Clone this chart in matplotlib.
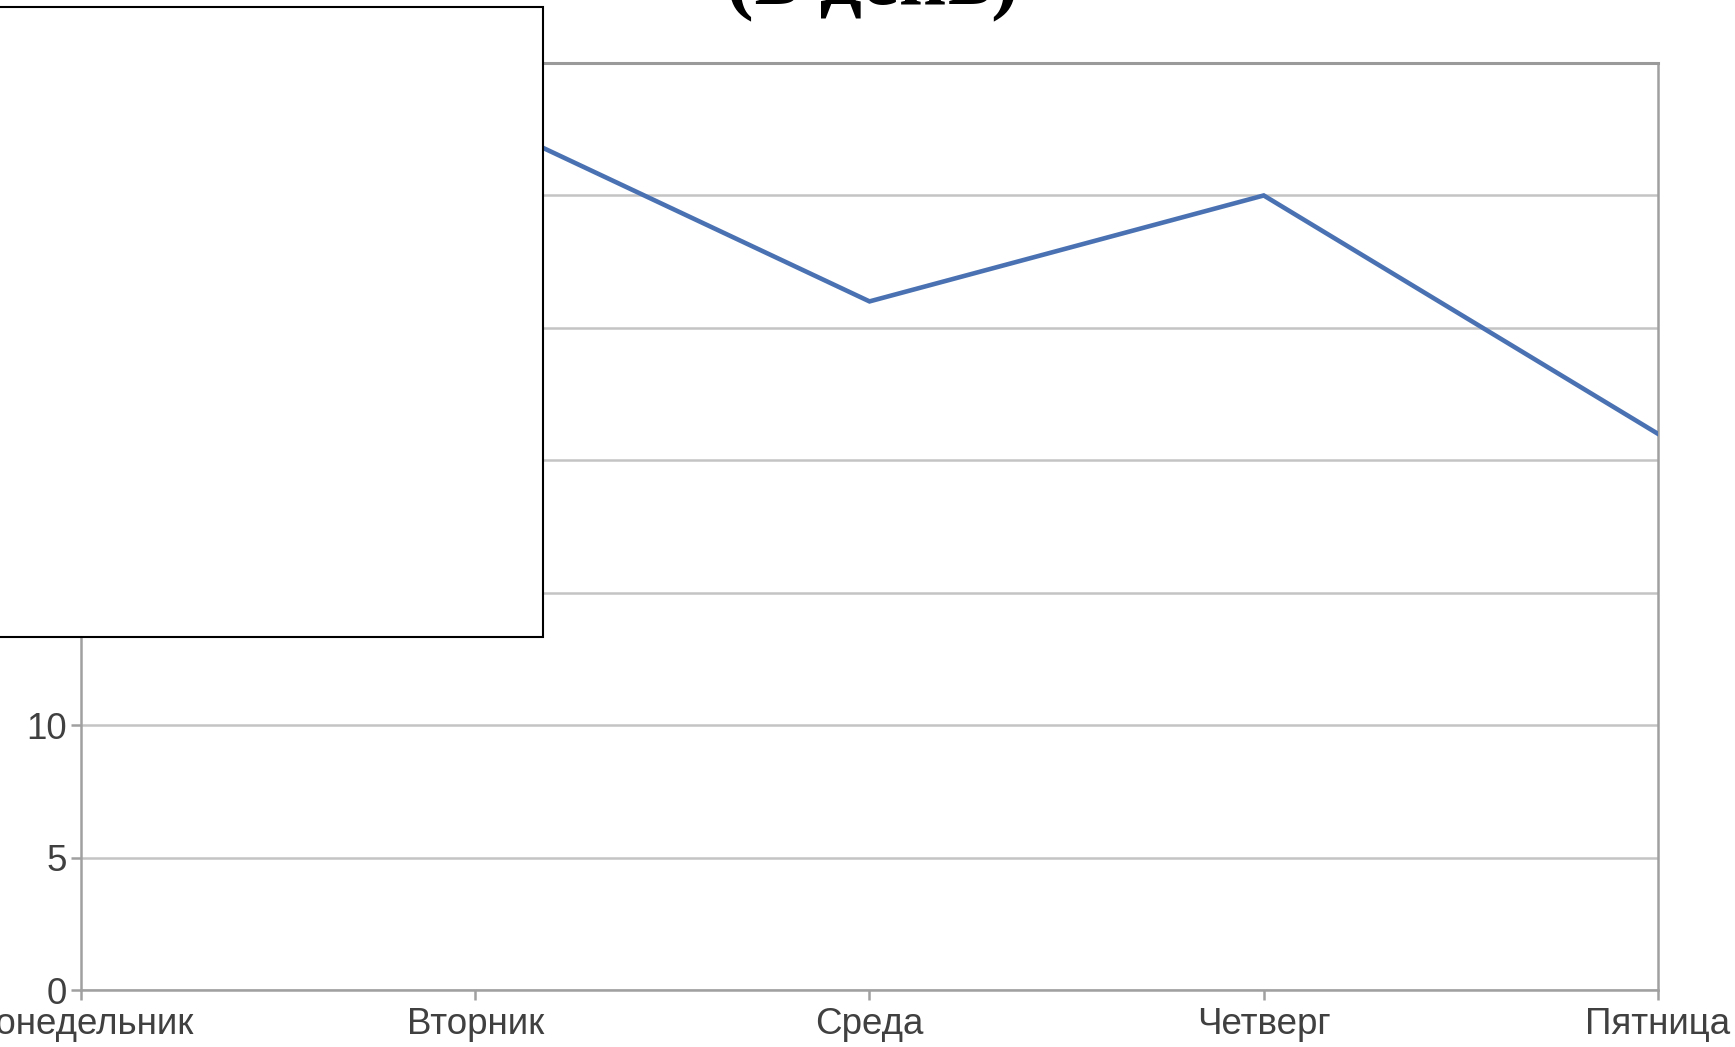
import matplotlib
matplotlib.use("Agg")
import matplotlib.pyplot as plt
from matplotlib.patches import Rectangle

# data (Monday is hidden under the white box in the reference; value estimated)
days = ["Понедельник", "Вторник", "Среда", "Четверг", "Пятница"]
values = [28, 33, 26, 30, 21]
y_ticks = [0, 5, 10, 15, 20, 25, 30, 35]
title = "(в день)"

LINE_COLOR = "#4a72b3"
GRID_COLOR = "#c4c4c4"
AXIS_COLOR = "#a0a0a0"
TEXT_COLOR = "#404040"

plt.rcParams["font.family"] = ["Liberation Sans", "DejaVu Sans"]

fig = plt.figure(figsize=(17.35, 10.47), dpi=100)
ax = fig.add_axes([0.0467, 0.0544, 0.9089, 0.8854])

x = list(range(len(days)))
ax.plot(x, values, color=LINE_COLOR, linewidth=3.3, solid_joinstyle="miter", zorder=3)

ax.set_xlim(0, len(days) - 1)
ax.set_ylim(0, 35)
ax.set_yticks(y_ticks)
ax.set_xticks(x)
ax.set_xticklabels(days)

ax.yaxis.grid(True, color=GRID_COLOR, linewidth=1.8)
ax.set_axisbelow(True)

for side in ("left", "bottom", "right", "top"):
    ax.spines[side].set_color(AXIS_COLOR)
    ax.spines[side].set_linewidth(1.8)
ax.spines["top"].set_color("#9a9a9a")
ax.spines["top"].set_linewidth(2.2)

ax.tick_params(axis="both", colors=AXIS_COLOR, length=7, width=1.8,
               labelsize=26.5, labelcolor=TEXT_COLOR)
ax.tick_params(axis="y", pad=3)
ax.tick_params(axis="x", pad=5)

# white box covering the upper-left part of the chart
box = Rectangle((-0.01, 1 - 637 / 1047), 543 / 1735 + 0.01, (637 - 7) / 1047,
                transform=fig.transFigure, facecolor="white",
                edgecolor="black", linewidth=1.5, zorder=10)
fig.add_artist(box)

# title, cut off at the top edge
fig.text(0.503, 1 - 4 / 1047, title, ha="center", va="baseline",
         fontsize=60, fontweight="bold", family=["Liberation Serif", "DejaVu Serif"],
         color="black")

fig.savefig("out.png", dpi=100)
